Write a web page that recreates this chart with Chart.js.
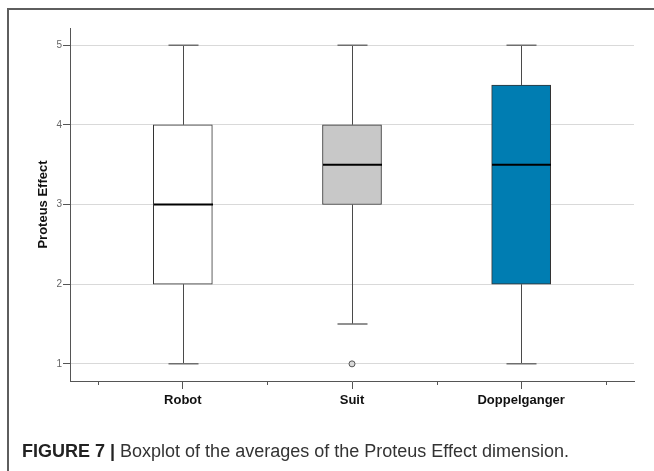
<!DOCTYPE html>
<html>
<head>
<meta charset="utf-8">
<script src="https://cdn.jsdelivr.net/npm/chart.js@4.4.1/dist/chart.umd.min.js"></script>
<style>
  html, body { margin:0; padding:0; background:#fff; }
  #wrap { position:relative; width:654px; height:471px; overflow:hidden; }
  #frame { position:absolute; left:7px; top:8px; width:1000px; height:1000px;
           border-top:2px solid #5e5e5e; border-left:2px solid #5e5e5e; }
  #cv { position:absolute; left:0; top:0; }
  #caption { position:absolute; left:22px; top:441px; font-family:"Liberation Sans", Arial, sans-serif;
             font-size:18px; color:#333; white-space:nowrap; }
  #caption b { color:#222; }
</style>
</head>
<body>
<div id="wrap">
  <div id="frame"></div>
  <canvas id="cv" width="654" height="471"></canvas>
  <div id="caption"><b>FIGURE 7 |</b> Boxplot of the averages of the Proteus Effect dimension.</div>
</div>
<script>
const categories = ['Robot', 'Suit', 'Doppelganger'];
const whiskerMin = [1, 1.5, 1];
const q1Values   = [2, 3, 2];
const medians    = [3, 3.5, 3.5];
const q3Values   = [4, 4, 4.5];
const whiskerMax = [5, 5, 5];
const outliers   = [{ cat: 1, value: 1 }];
const yTicks     = [1, 2, 3, 4, 5];
const boxColors  = ['#ffffff', '#c8c8c8', '#007db2'];

const boxData = categories.map((c, i) => ({ x: i, y: [q1Values[i], q3Values[i]] }));
const outlierData = outliers.map(o => ({ x: o.cat, y: o.value }));

const BOX_W = 59;
const CAP_W = 30;

const boxplotPlugin = {
  id: 'boxplotExtras',
  afterDatasetsDraw(chart) {
    const { ctx, scales: { x, y } } = chart;
    ctx.save();
    categories.forEach((c, i) => {
      const cx = Math.round(x.getPixelForValue(i)) + 0.5;
      const pMin = y.getPixelForValue(whiskerMin[i]);
      const pQ1 = y.getPixelForValue(q1Values[i]);
      const pMed = y.getPixelForValue(medians[i]);
      const pQ3 = y.getPixelForValue(q3Values[i]);
      const pMax = y.getPixelForValue(whiskerMax[i]);
      ctx.strokeStyle = '#4a4a4a';
      ctx.lineWidth = 1;
      ctx.beginPath();
      ctx.moveTo(cx, pQ3); ctx.lineTo(cx, pMax);
      ctx.moveTo(cx, pQ1); ctx.lineTo(cx, pMin);
      ctx.stroke();
      ctx.strokeStyle = '#6e6e6e';
      ctx.lineWidth = 1.5;
      ctx.beginPath();
      ctx.moveTo(cx - CAP_W / 2, pMax); ctx.lineTo(cx + CAP_W / 2, pMax);
      ctx.moveTo(cx - CAP_W / 2, pMin); ctx.lineTo(cx + CAP_W / 2, pMin);
      ctx.stroke();
      ctx.strokeStyle = '#000';
      ctx.lineWidth = 2;
      ctx.beginPath();
      ctx.moveTo(cx - BOX_W / 2, pMed); ctx.lineTo(cx + BOX_W / 2, pMed);
      ctx.stroke();
    });
    ctx.strokeStyle = '#555';
    ctx.lineWidth = 1;
    ctx.beginPath();
    for (let i = -0.5; i <= categories.length - 0.5; i += 1) {
      const px = Math.round(x.getPixelForValue(i)) + 0.5;
      ctx.moveTo(px, x.top); ctx.lineTo(px, x.top + 4);
    }
    ctx.stroke();
    ctx.restore();
  }
};

new Chart(document.getElementById('cv'), {
  type: 'bar',
  data: {
    datasets: [
      {
        type: 'bar',
        data: boxData,
        backgroundColor: boxColors,
        borderColor: '#333',
        borderWidth: 1,
        borderSkipped: false,
        barThickness: BOX_W,
        order: 2
      },
      {
        type: 'scatter',
        data: outlierData,
        pointRadius: 3,
        pointBackgroundColor: '#d8d8d8',
        pointBorderColor: '#555',
        pointBorderWidth: 1,
        order: 1
      }
    ]
  },
  options: {
    responsive: false,
    animation: false,
    events: [],
    layout: { padding: { left: 0, top: 28, right: 20, bottom: 0 } },
    plugins: { legend: { display: false }, tooltip: { enabled: false } },
    scales: {
      x: {
        type: 'linear',
        offset: false,
        min: -0.667,
        max: categories.length - 1 + 0.667,
        afterBuildTicks: s => { s.ticks = categories.map((c, i) => ({ value: i })); },
        afterFit: s => { s.height = 90; },
        ticks: {
          autoSkip: false,
          maxRotation: 0,
          padding: 4,
          color: '#111',
          font: { family: '"Liberation Sans", Arial, sans-serif', size: 13, weight: 'bold' },
          callback: v => categories[v] ?? ''
        },
        grid: { display: true, offset: false, drawOnChartArea: false, drawTicks: true, tickLength: 8, tickColor: '#555' },
        border: { display: true, color: '#555', width: 1 }
      },
      y: {
        type: 'linear',
        min: 0.785,
        max: 5.215,
        afterBuildTicks: s => { s.ticks = yTicks.map(v => ({ value: v })); },
        afterFit: s => { s.width = 70; },
        ticks: {
          padding: 1,
          color: '#666',
          font: { family: '"Liberation Sans", Arial, sans-serif', size: 10 }
        },
        grid: { color: '#d9d9d9', lineWidth: 1, tickLength: 7, tickColor: '#555' },
        border: { display: true, color: '#555', width: 1 },
        title: {
          display: true,
          text: 'Proteus Effect',
          color: '#111',
          padding: { top: 36, bottom: 0 },
          font: { family: '"Liberation Sans", Arial, sans-serif', size: 13, weight: 'bold' }
        }
      }
    }
  },
  plugins: [boxplotPlugin]
});
</script>
</body>
</html>
